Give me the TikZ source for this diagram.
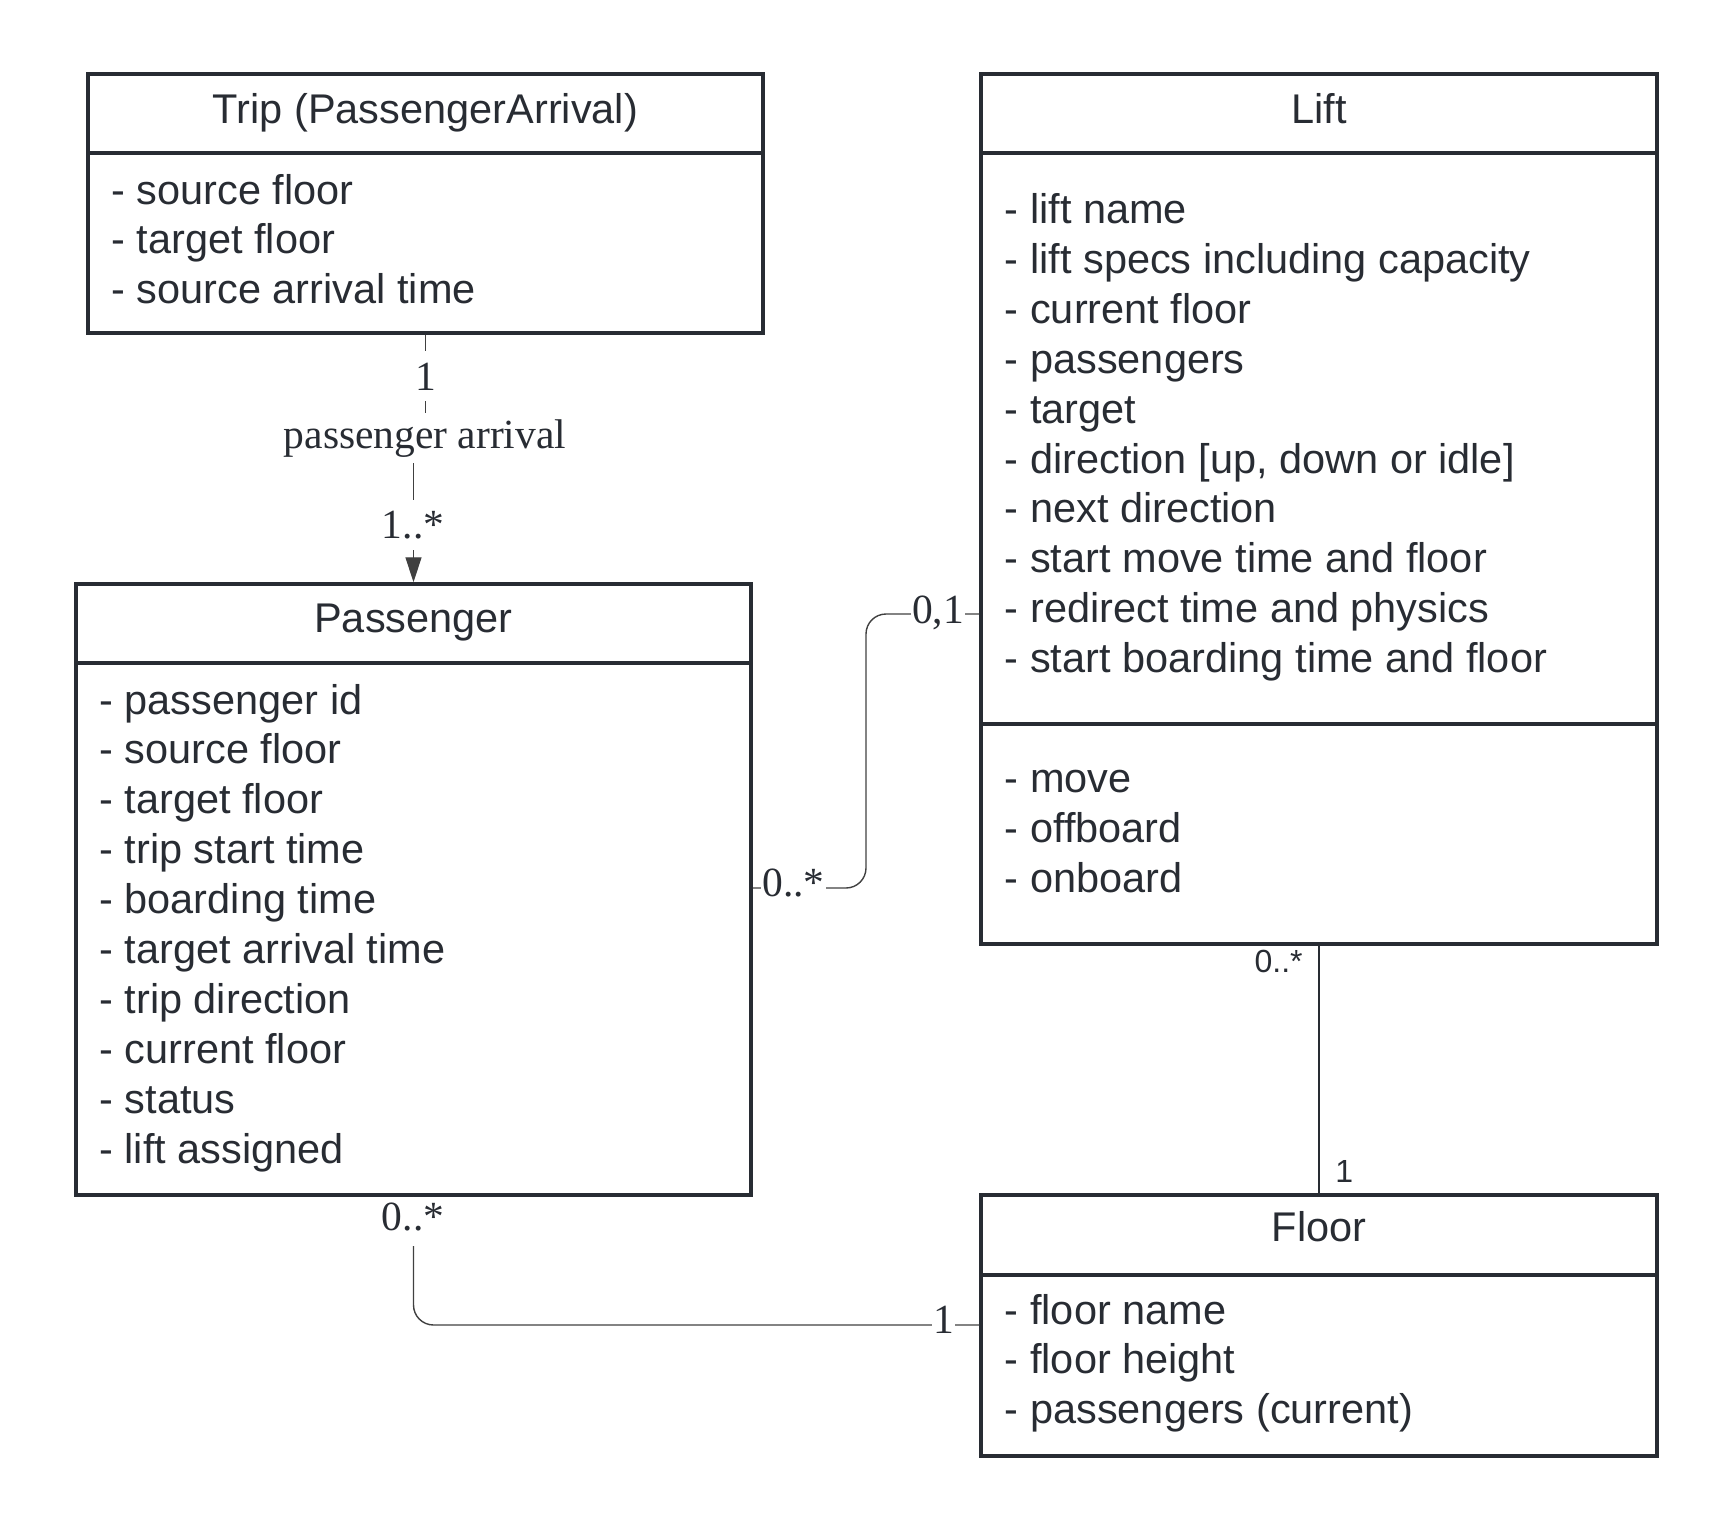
\documentclass[tikz,border=0pt]{standalone}
\usepackage{fontspec}
\setmainfont{Liberation Sans}
\newfontfamily\lblserif{Liberation Serif}
\usetikzlibrary{arrows.meta,fit}
\definecolor{ink}{HTML}{282C33}
\definecolor{wire}{HTML}{404040}
\begin{document}
\begin{tikzpicture}[x=0.5pt,y=-0.5pt,
  box/.style={draw=ink, line width=1.75pt, inner sep=0pt},
  divider/.style={draw=ink, line width=1.75pt},
  txt/.style={text=ink, inner sep=0pt, anchor=base west, font=\fontsize{20.75pt}{25pt}\selectfont},
  ttl/.style={text=ink, inner sep=0pt, anchor=base, font=\fontsize{20.75pt}{25pt}\selectfont},
  conn/.style={draw=wire, line width=0.7pt},
  conntwo/.style={draw=ink, line width=0.9pt},
  mult/.style={text=ink, fill=white, inner xsep=0.5pt, inner ysep=0pt, minimum height=25pt, anchor=base, font=\lblserif\fontsize{20.75pt}{25pt}\selectfont},
  smult/.style={text=ink, inner sep=0pt, font=\fontsize{16pt}{19pt}\selectfont},
]
\useasboundingbox (0,0) rectangle (1731,1532);

% class boxes
\node[box, fit={(88,74)(763,333)}] (trip) {};
\node[box, fit={(76,584)(751,1195)}] (passenger) {};
\node[box, fit={(981,74)(1657,944)}] (lift) {};
\node[box, fit={(981,1195)(1657,1456)}] (floor) {};

% dividers
\draw[divider] (trip.west |- 0,153) -- (trip.east |- 0,153);
\draw[divider] (passenger.west |- 0,663) -- (passenger.east |- 0,663);
\draw[divider] (lift.west |- 0,153) -- (lift.east |- 0,153);
\draw[divider] (lift.west |- 0,724) -- (lift.east |- 0,724);
\draw[divider] (floor.west |- 0,1275) -- (floor.east |- 0,1275);

% titles
\node[ttl] (tripT) at (425.5,123) {Trip (PassengerArrival)};
\node[ttl] (passT) at (413.5,632.7) {Passenger};
\node[ttl] (liftT) at (1319,123) {Lift};
\node[ttl] (floorT) at (1319,1241.7) {Floor};

% attributes
\foreach \t [count=\i] in {source floor, target floor, source arrival time}
  \node[txt] (tripA\i) at (111,{204+(\i-1)*49.9}) {- \t};
\foreach \t [count=\i] in {passenger id, source floor, target floor, trip start time, boarding time, target arrival time, trip direction, current floor, status, lift assigned}
  \node[txt] (passA\i) at (99,{714+(\i-1)*49.9}) {- \t};
\foreach \t [count=\i] in {lift name, lift specs including capacity, current floor, passengers, target, {direction [up, down or idle]}, next direction, start move time and floor, redirect time and physics, start boarding time and floor}
  \node[txt] (liftA\i) at (1004.5,{223.5+(\i-1)*49.9}) {- \t};
\foreach \t [count=\i] in {move, offboard, onboard}
  \node[txt] (liftM\i) at (1004.5,{792.5+(\i-1)*49.9}) {- \t};
\foreach \t [count=\i] in {floor name, floor height, passengers (current)}
  \node[txt] (floorA\i) at (1004.5,{1324+(\i-1)*49.9}) {- \t};

% Trip -> Passenger
\draw[conn, -{Triangle[length=12.5pt,width=8pt]}] (trip.south) -- (trip.south |- 0,440) -- (passenger.north |- 0,440) -- (passenger.north);
\node[mult] (mTrip) at (425.5,390) {1};
\node[mult] (mArr) at (425,448) {passenger arrival};
\node[mult] (mPass) at (413,538) {1..*};

% Passenger -- Lift
\draw[conn, rounded corners=10pt] (passenger.east |- 0,888) -- (866,888) -- (866,614) -- (lift.west |- 0,614);
\node[mult] (mPL1) at (793.5,896.7) {0..*};
\node[mult] (mPL2) at (938,623) {0,1};

% Passenger -- Floor
\draw[conn, rounded corners=10pt] (passenger.south) -- (passenger.south |- 0,1325) -- (floor.west |- 0,1325);
\node[mult, minimum height=0pt, inner ysep=1pt, text height=15.4pt, text depth=7pt] (mPF1) at (413,1230) {0..*};
\node[mult] (mPF2) at (943.5,1333) {1};

% Lift -- Floor
\draw[conntwo] (lift.south) -- (floor.north);
\node[smult, anchor=base east] (mLF1) at (1303,972) {0..*};
\node[smult, anchor=base west] (mLF2) at (1335,1182) {1};
\end{tikzpicture}
\end{document}
